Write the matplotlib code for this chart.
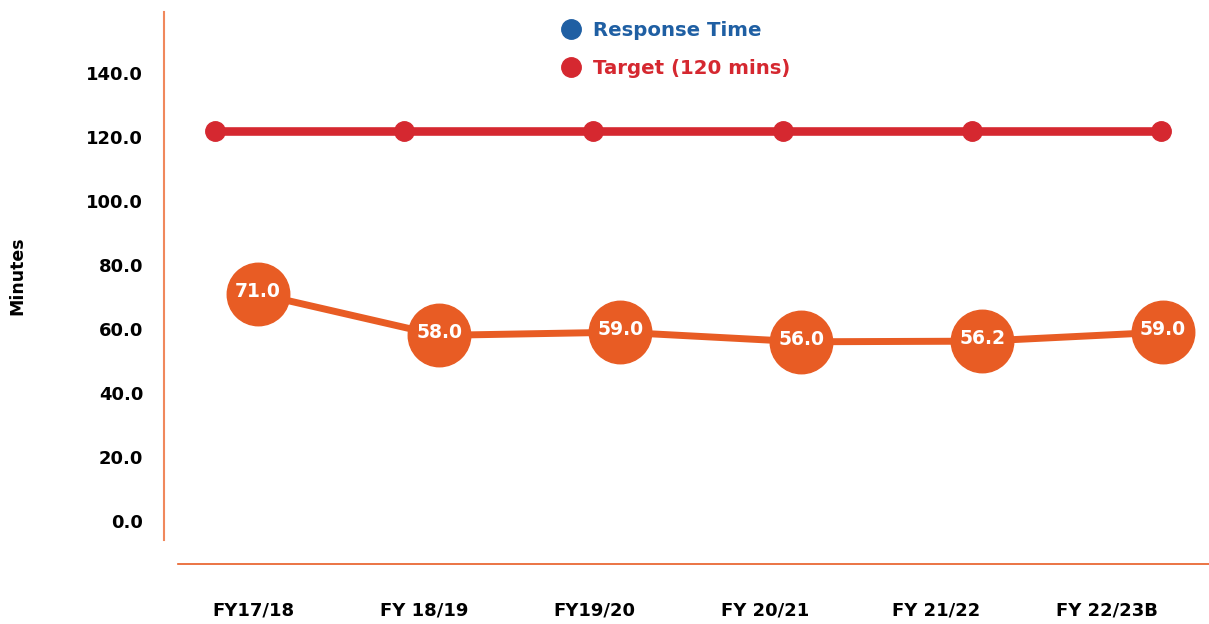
import matplotlib
matplotlib.use("Agg")
import matplotlib.pyplot as plt
from matplotlib.lines import Line2D

categories = ["FY17/18", "FY 18/19", "FY19/20", "FY 20/21", "FY 21/22", "FY 22/23B"]
response_time = [71.0, 58.0, 59.0, 56.0, 56.2, 59.0]
target = [122, 122, 122, 122, 122, 122]
y_ticks = [0, 20, 40, 60, 80, 100, 120, 140]

ORANGE = "#E85C24"
RED = "#D52830"
BLUE = "#1F5FA3"
SPINE = "#F0885C"

plt.rcParams["font.family"] = ["DejaVu Sans"]
plt.rcParams["font.weight"] = "bold"

W, H = 1209, 624
fig = plt.figure(figsize=(W / 100, H / 100), dpi=100)

# main axes: left spine from y=12 to 540, x from 164 to 1209
ax = fig.add_axes([164 / W, (H - 540) / H, (W - 164) / W, (540 - 12) / H])
ax.set_ylim(-5.94, 159.06)
ax.set_xlim(-0.2696, 5.2537)
for s in ["top", "right", "bottom"]:
    ax.spines[s].set_visible(False)
ax.spines["left"].set_color(SPINE)
ax.spines["left"].set_linewidth(1.5)
ax.set_yticks(y_ticks)
ax.set_yticklabels([f"{v:.1f}" for v in y_ticks], fontsize=13, fontweight="bold")
ax.tick_params(axis="y", length=0, pad=15)
ax.set_xticks([])
ax.set_ylabel("Minutes", fontsize=12.5, fontweight="bold")
ax.yaxis.set_label_coords(-138 / (W - 164), 0.5)
ax.patch.set_alpha(0)

xs = list(range(len(categories)))
ax.plot(xs, target, color=RED, lw=6.2, marker="o", ms=14, zorder=3)

# orange series on a twin x scale
ax2 = ax.twiny()
ax2.set_xlim(-0.5204, 5.2536)
ax2.set_ylim(ax.get_ylim())
ax2.axis("off")
ax2.plot(xs, response_time, color=ORANGE, lw=5, marker="o", ms=45, zorder=4)
for x, v in zip(xs, response_time):
    ax2.text(x, v + 0.8, f"{v:.1f}", color="white", fontsize=13.5, fontweight="bold",
             ha="center", va="center", zorder=5)

# category axis
axl = fig.add_axes([178 / W, (H - 563) / H - 0.001, (W - 178) / W, 0.001])
axl.set_xlim(-0.439, 5.597)
for s in ["top", "right", "left"]:
    axl.spines[s].set_visible(False)
axl.spines["bottom"].set_color(ORANGE)
axl.spines["bottom"].set_linewidth(1.2)
axl.set_yticks([])
axl.set_xticks(xs)
axl.set_xticklabels(categories, fontsize=13, fontweight="bold")
axl.tick_params(axis="x", length=0, pad=27)

handles = [
    Line2D([], [], ls="none", marker="o", ms=14, color=BLUE),
    Line2D([], [], ls="none", marker="o", ms=14, color=RED),
]
leg = fig.legend(handles, ["Response Time", "Target (120 mins)"],
                 loc="upper left", bbox_to_anchor=(541 / W, 1 - 3 / H),
                 frameon=False, fontsize=14.2, handletextpad=0.55,
                 labelspacing=0.98, handlelength=1.2)
for t, c in zip(leg.get_texts(), [BLUE, RED]):
    t.set_color(c)
    t.set_fontweight("bold")

fig.savefig("out.png", dpi=100)
